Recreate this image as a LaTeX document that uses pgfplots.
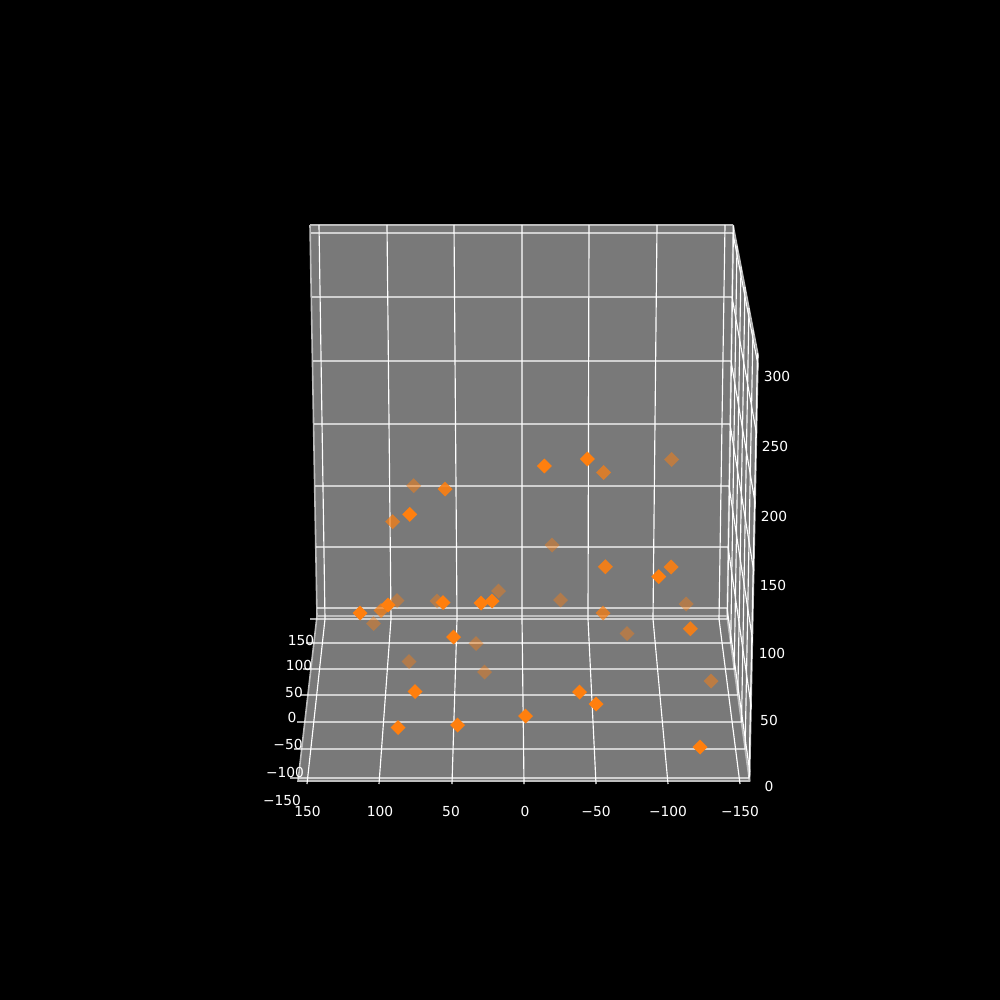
\documentclass[border=0pt]{standalone}
\usepackage{fontspec}
\setmainfont{DejaVu Sans}
\usepackage{pgfplots}
\pgfplotsset{compat=1.18}
\definecolor{pane}{HTML}{797979}
\definecolor{edge}{HTML}{BDBDBD}
\definecolor{dots}{HTML}{FF7F0E}
\pgfplotsset{
  gl/.style={white,line width=1.15pt,forget plot},
  ps/.style={only marks,mark=square*,mark size=5.3pt,
    mark options={rotate=45,draw opacity=0,line width=0pt,fill=dots,fill opacity=#1},forget plot}
}
\tikzset{tl/.style={font=\fontsize{13.8}{16}\selectfont,text=white,inner sep=0pt,anchor=center}}
\begin{document}
\begin{tikzpicture}
\begin{axis}[
  scale only axis,width=1000pt,height=1000pt,
  xmin=0,xmax=1000,ymin=0,ymax=1000,y dir=reverse,
  hide axis,clip=true]
% background
\addplot[fill=black,draw=none,forget plot] coordinates {(0,0)(1000,0)(1000,1000)(0,1000)} -- cycle;
% panes
\addplot[fill=pane,draw=none,forget plot] coordinates {(310,225)(733,225)(727,616)(317,616)} -- cycle;
\addplot[fill=pane,draw=none,forget plot] coordinates {(317,616)(727,616)(749.5,781)(298,781)} -- cycle;
\addplot[fill=pane,draw=none,forget plot] coordinates {(733,225)(758,355)(749.5,781)(727,616)} -- cycle;
% pane edges
\addplot[edge,line width=1.6pt,forget plot] coordinates {(310,225)(733,225)};
\addplot[edge,line width=1.6pt,forget plot] coordinates {(310,225)(317,616)(298,781)(749.5,781)(758,355)(733,225)};
\addplot[edge,line width=1.6pt,forget plot] coordinates {(317,616)(727,616)(749.5,781)};
\addplot[edge,line width=1.2pt,forget plot] coordinates {(733,225)(727,616)};
% x grid: back wall then floor
\addplot[gl] coordinates {(319,225)(325,619)(307,784)};
\addplot[gl] coordinates {(387,225)(391,619)(379,784)};
\addplot[gl] coordinates {(454,225)(457,619)(452,784)};
\addplot[gl] coordinates {(522,225)(522,619)(524,784)};
\addplot[gl] coordinates {(589,225)(588,619)(596,784)};
\addplot[gl] coordinates {(657,225)(653,619)(668,784)};
\addplot[gl] coordinates {(725,225)(719,619)(740,784)};
% z grid: back wall then right wall
\addplot[gl] coordinates {(311,233)(732.9,233)(757.8,364)(757.6,369)};
\addplot[gl] coordinates {(312,297)(732,297)(756.4,433)(756.2,438)};
\addplot[gl] coordinates {(313,361)(731,361)(755,502)(754.8,507)};
\addplot[gl] coordinates {(314,424)(730,424)(753.6,570)(753.4,575)};
\addplot[gl] coordinates {(315,486)(729,486)(752.3,638)(752.1,643)};
\addplot[gl] coordinates {(316,547)(728,547)(751,705)(750.8,710)};
\addplot[gl] coordinates {(317,608)(727,608)(749.8,772)(749.6,777)};
% y grid: floor then right wall
\addplot[gl] coordinates {(310,619)(727.4,619)(733.5,225.4)};
\addplot[gl] coordinates {(306,643)(730.7,643)(737,246)};
\addplot[gl] coordinates {(303,669)(734.2,669)(741,267)};
\addplot[gl] coordinates {(300,695)(737.8,695)(745,287)};
\addplot[gl] coordinates {(297,722)(741.5,722)(749,308)};
\addplot[gl] coordinates {(294,749)(745.1,749)(753,330)};
\addplot[gl] coordinates {(290,778)(749,778)(757.5,353)};
% points
\addplot[ps=0.42] coordinates {(552,545)(498.5,591)(437,601)(560.5,600)(686,604)(397,600.5)(373.5,623.5)(627,633.5)(476,643.5)(484.5,672)(409,661.5)};
\addplot[ps=0.5] coordinates {(671.7,459.5)(413.7,485.7)(711,681)};
\addplot[ps=0.7] coordinates {(603.7,472.5)(392.7,521.7)(381,610.5)(603,613)};
\addplot[ps=0.88] coordinates {(445,489)(605.3,566.7)(671,567)(690.3,628.7)};
\addplot[ps=1] coordinates {(544.3,466)(587.3,459)(409.7,514.3)(658.7,576.7)(443,602.5)(481,603)(492,601)(360,613)(388,605)(453.5,637)(415,691.5)(398,727.5)(457.5,725)(525.5,716)(579.5,692)(596,704)(700,747)};
% tick labels
\node[tl] at (axis cs:307.5,811.5) {150};
\node[tl] at (axis cs:380,811.5) {100};
\node[tl] at (axis cs:451,811.5) {50};
\node[tl] at (axis cs:525,811.5) {0};
\node[tl] at (axis cs:596,811.5) {−50};
\node[tl] at (axis cs:668,811.5) {−100};
\node[tl] at (axis cs:740,811.5) {−150};
\node[tl] at (axis cs:301,640) {150};
\node[tl] at (axis cs:299,665.5) {100};
\node[tl] at (axis cs:294,692) {50};
\node[tl] at (axis cs:292,717) {0};
\node[tl] at (axis cs:288,744) {−50};
\node[tl] at (axis cs:285,772) {−100};
\node[tl] at (axis cs:282,800) {−150};
\node[tl] at (axis cs:777,376) {300};
\node[tl] at (axis cs:775,446) {250};
\node[tl] at (axis cs:774,516) {200};
\node[tl] at (axis cs:773,585) {150};
\node[tl] at (axis cs:772,653) {100};
\node[tl] at (axis cs:769,720) {50};
\node[tl] at (axis cs:769,786) {0};
\end{axis}
\end{tikzpicture}
\end{document}
